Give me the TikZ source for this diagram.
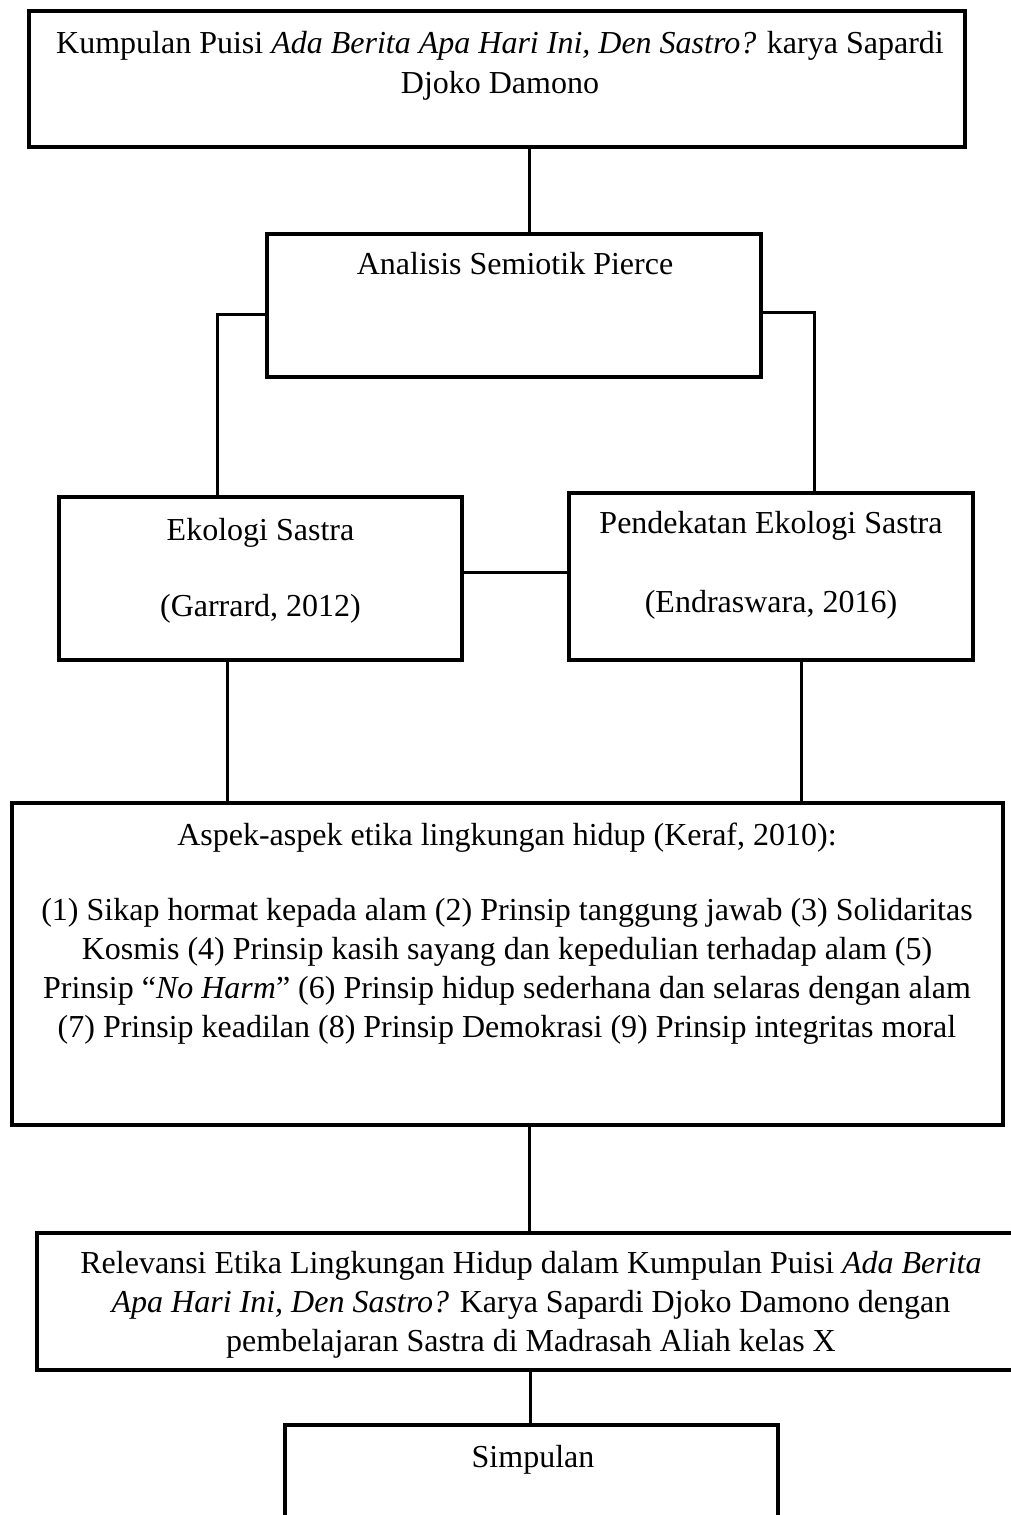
\documentclass[tikz,border=0pt]{standalone}
\usepackage{fontspec}
\setmainfont{Liberation Serif}
\begin{document}
\begin{tikzpicture}[x=1pt,y=-1pt,
  box/.style={draw, line width=3.5pt, rectangle, inner sep=0pt},
  thickbox/.style={box, line width=4pt},
  txt/.style={inner sep=0pt, align=center, anchor=north, font=\fontsize{32}{39}\selectfont},
  conn/.style={line width=3pt}]
\useasboundingbox (0,0) rectangle (1011,1515);
\clip (0,0) rectangle (1011,1515);

% boxes
\node[thickbox, minimum width=936pt, minimum height=136pt] (top) at (497,79) {};
\node[box, minimum width=494pt, minimum height=143pt] (anal) at (514,305.5) {};
\node[box, minimum width=403pt, minimum height=163pt] (eko) at (260.5,578.5) {};
\node[box, minimum width=404pt, minimum height=167pt] (pend) at (771,576.5) {};
\node[thickbox, minimum width=991pt, minimum height=322pt] (aspek) at (507.5,964) {};
\node[thickbox, minimum width=986pt, minimum height=137pt] (rel) at (530,1301.5) {};
\node[box, minimum width=493pt, minimum height=135pt] (simp) at (531.5,1492.5) {};

% texts
\node[txt] (toptxt) at (500,29) {\rule{0pt}{24pt}Kumpulan Puisi \textit{Ada Berita Apa Hari Ini, Den Sastro?} karya Sapardi\\[1pt]Djoko Damono};
\node[txt] (analtxt) at (515,250) {\rule{0pt}{24pt}Analisis Semiotik Pierce};
\node[txt] (ekotxt) at (260.5,516) {\rule{0pt}{24pt}Ekologi Sastra\\[37pt](Garrard, 2012)};
\node[txt] (pendtxt) at (771,509) {\rule{0pt}{24pt}Pendekatan Ekologi Sastra\\[40pt](Endraswara, 2016)};
\node[txt] (aspektxt) at (507,821) {\rule{0pt}{24pt}Aspek-aspek etika lingkungan hidup (Keraf, 2010):\\[36pt]
(1) Sikap hormat kepada alam (2) Prinsip tanggung jawab (3) Solidaritas\\
Kosmis (4) Prinsip kasih sayang dan kepedulian terhadap alam (5)\\
Prinsip “\textit{No Harm}” (6) Prinsip hidup sederhana dan selaras dengan alam\\
(7) Prinsip keadilan (8) Prinsip Demokrasi (9) Prinsip integritas moral};
\node[txt] (reltxt) at (531,1249) {\rule{0pt}{24pt}Relevansi Etika Lingkungan Hidup dalam Kumpulan Puisi \textit{Ada Berita}\\
\textit{Apa Hari Ini, Den Sastro?} Karya Sapardi Djoko Damono dengan\\
pembelajaran Sastra di Madrasah Aliah kelas X};
\node[txt] (simptxt) at (533,1443) {\rule{0pt}{24pt}Simpulan};

% connector guide coordinates
\coordinate (cmid) at (529,0);
\coordinate (aL) at (217,314);
\coordinate (aR) at (814,312);
\coordinate (ep) at (0,572);
\coordinate (eL) at (227,0);
\coordinate (pR) at (801,0);
\coordinate (c2) at (530,0);

% connectors
\draw[conn] (top.south -| cmid) -- (anal.north -| cmid);
\draw[conn] (anal.west |- aL) -| (eko.north -| aL);
\draw[conn] (anal.east |- aR) -| (pend.north -| aR);
\draw[conn] (eko.east |- ep) -- (pend.west |- ep);
\draw[conn] (eko.south -| eL) -- (aspek.north -| eL);
\draw[conn] (pend.south -| pR) -- (aspek.north -| pR);
\draw[conn] (aspek.south -| cmid) -- (rel.north -| cmid);
\draw[conn] (rel.south -| c2) -- (simp.north -| c2);
\end{tikzpicture}
\end{document}
